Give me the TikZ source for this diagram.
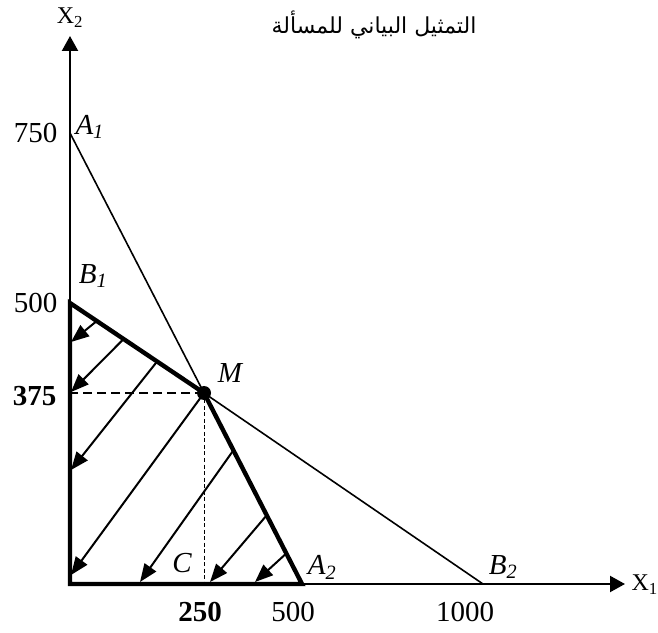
\documentclass[tikz,border=0pt]{standalone}
\usepackage{fontspec}
\setmainfont{Liberation Serif}
\newfontfamily\arabicfont[Script=Arabic]{DejaVu Sans}
\TeXXeTstate=1
\usetikzlibrary{arrows.meta,calc}

\begin{document}
\begin{tikzpicture}[
  x=1pt, y=1pt,
  axis/.style={line width=2.1pt, -{Triangle[length=15pt, width=16pt]}},
  thinline/.style={line width=1.6pt},
  bound/.style={line width=4.4pt, line join=miter},
  hatch/.style={line width=2pt, -{Triangle[length=18pt, width=14pt]}},
  num/.style={font=\fontsize{29}{32}\selectfont},
  lbl/.style={font=\fontsize{29}{32}\selectfont\itshape},
]
\useasboundingbox (0,0) rectangle (658,632);

% === points ===
\coordinate (O) at (70,48);
\coordinate (Yt) at (70,596);
\coordinate (Xt) at (625,48);
\coordinate (A1) at (70,499);
\coordinate (B1) at (70,329);
\coordinate (M) at (204,239);
\coordinate (A2) at (302,48);
\coordinate (B2) at (483,48);
\coordinate (My) at (72,239);
\coordinate (Mx) at (204,48);

% === title ===
\node[font=\fontsize{22}{25}\selectfont] (title) at (374,607) {\arabicfont\beginR التمثيل البياني للمسألة\endR};

% === axes ===
\draw[axis] (O) -- (Yt);
\draw[axis] (O) -- (Xt);
\node[font=\fontsize{24}{27}\selectfont] (x2) at (70,614) {X\textsubscript{2}};
\node[font=\fontsize{24}{27}\selectfont, anchor=west] (x1) at (628,47) {X\textsubscript{1}};

% === constraint lines ===
\draw[thinline] (A1) -- (M);
\draw[thinline] (M) -- (B2);
\draw[bound] (O) -- (B1) -- (M) -- (A2) -- cycle;
\draw[line width=1.5pt, dash pattern=on 9pt off 5pt] (M) -- (My);
\draw[line width=1pt, dash pattern=on 4pt off 2.5pt] (M) -- (Mx);
\fill (M) circle (7pt);

% === feasible region ===
\coordinate (h1) at ($(B1)!0.2!(M)$);
\coordinate (h2) at ($(B1)!0.4!(M)$);
\coordinate (h3) at ($(B1)!0.65!(M)$);
\coordinate (h5) at ($(M)!0.3!(A2)$);
\coordinate (h6) at ($(M)!0.64!(A2)$);
\coordinate (h7) at ($(M)!0.84!(A2)$);
\coordinate (e1) at (71,290);
\coordinate (e2) at (71,240);
\coordinate (e3) at (71,162);
\coordinate (e4) at (71,57);
\coordinate (e5) at (140,50);
\coordinate (e6) at (210,50);
\coordinate (e7) at (255,50);
\draw[hatch] (h1) -- (e1);
\draw[hatch] (h2) -- (e2);
\draw[hatch] (h3) -- (e3);
\draw[hatch] (M) -- (e4);
\draw[hatch] (h5) -- (e5);
\draw[hatch] (h6) -- (e6);
\draw[hatch] (h7) -- (e7);

% === labels ===
\node[num, anchor=east] (n750) at (61,499) {750};
\node[num, anchor=east] (n500y) at (61,329) {500};
\node[num, anchor=east] (n375) at (60,236) {\textbf{375}};
\node[num] (n250) at (200,20) {\textbf{250}};
\node[num] (n500x) at (293,20) {500};
\node[num] (n1000) at (465,20) {1000};
\node[lbl, anchor=west] (la1) at (72,505) {A\textsubscript{1}};
\node[lbl] (lb1) at (93,356) {B\textsubscript{1}};
\node[lbl] (lm) at (230,259) {M};
\node[lbl] (lc) at (182,69) {C};
\node[lbl] (la2) at (322,65) {A\textsubscript{2}};
\node[lbl] (lb2) at (503,65) {B\textsubscript{2}};

\end{tikzpicture}
\end{document}
